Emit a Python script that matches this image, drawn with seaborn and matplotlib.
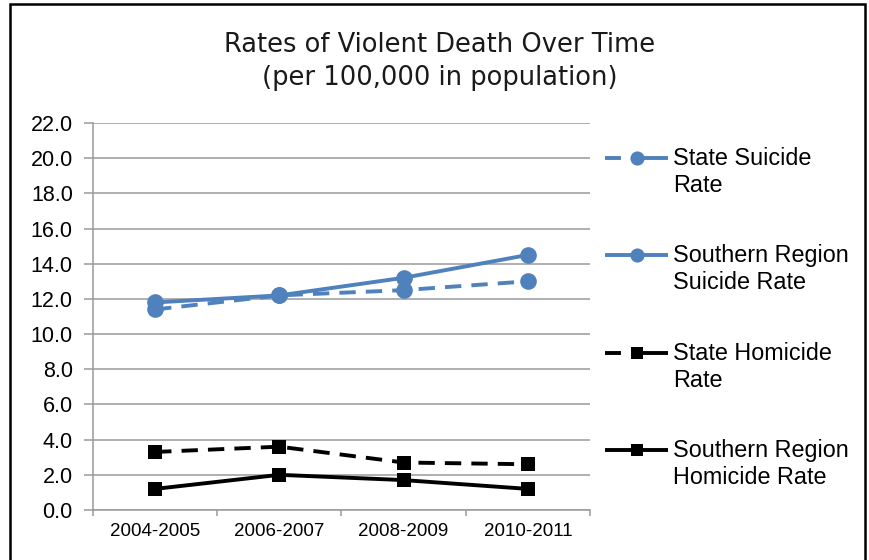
import matplotlib
matplotlib.use("Agg")
import matplotlib.pyplot as plt
from matplotlib.lines import Line2D
from matplotlib.patches import Rectangle
from matplotlib.ticker import FixedLocator, FormatStrFormatter
import seaborn as sns
import pandas as pd

# Data
periods = ["2004-2005", "2006-2007", "2008-2009", "2010-2011"]
state_suicide = [11.4, 12.2, 12.5, 13.0]
region_suicide = [11.8, 12.2, 13.2, 14.5]
state_homicide = [3.3, 3.6, 2.7, 2.6]
region_homicide = [1.2, 2.0, 1.7, 1.2]

series_names = ["State Suicide\nRate", "Southern Region\nSuicide Rate",
                "State Homicide\nRate", "Southern Region\nHomicide Rate"]
series_values = [state_suicide, region_suicide, state_homicide, region_homicide]

blue = "#4F81BD"
styles = [
    dict(color=blue, marker="o", markersize=12, dashed=True),
    dict(color=blue, marker="o", markersize=12, dashed=False),
    dict(color="black", marker="s", markersize=10.5, dashed=True),
    dict(color="black", marker="s", markersize=10.5, dashed=False),
]
LW = 2.8

sns.set_theme(style="white")
plt.rcParams["font.family"] = ["Liberation Sans", "DejaVu Sans"]
plt.rcParams["text.color"] = "black"

fig = plt.figure(figsize=(8.7, 5.6), dpi=100)
ax = fig.add_axes([93 / 870, 50 / 560, 497 / 870, 387 / 560])

for name, vals, st in zip(series_names, series_values, styles):
    df = pd.DataFrame({"period": periods, "rate": vals})
    sns.lineplot(data=df, x="period", y="rate", ax=ax, color=st["color"],
                 marker=st["marker"], markersize=st["markersize"],
                 markeredgewidth=0, linewidth=LW, sort=False, legend=False)
    line = ax.lines[-1]
    line.set_markerfacecolor(st["color"])
    if st["dashed"]:
        line.set_dashes((4.2, 2.6))

ax.set_xlim(-0.5, 3.5)
ax.set_ylim(0, 22)
ax.set_yticks(range(0, 23, 2))
ax.yaxis.set_major_formatter(FormatStrFormatter("%.1f"))
ax.set_xlabel("")
ax.set_ylabel("")

grid_c = "#9a9a9a"
ax.grid(axis="y", color=grid_c, linewidth=1.1)
ax.grid(axis="x", visible=False)
for side in ["top", "right"]:
    ax.spines[side].set_visible(False)
for side in ["left", "bottom"]:
    ax.spines[side].set_color(grid_c)
    ax.spines[side].set_linewidth(1.1)

ax.tick_params(axis="y", which="major", length=6.5, width=1.1, color=grid_c,
               left=True, pad=8, labelsize=15.5, labelcolor="black")
ax.xaxis.set_minor_locator(FixedLocator([-0.5, 0.5, 1.5, 2.5, 3.5]))
ax.tick_params(axis="x", which="minor", length=4, width=1.1, color=grid_c,
               bottom=True, direction="out")
ax.tick_params(axis="x", which="major", length=0, pad=9, labelsize=13.5,
               labelcolor="black")

# Legend drawn beside the plot area
leg_rows = [158, 255, 353, 450]
for (name, st), y in zip(zip(series_names, styles), leg_rows):
    yf = 1 - y / 560
    h = Line2D([605 / 870, 668 / 870], [yf, yf], transform=fig.transFigure,
               color=st["color"], linewidth=LW, solid_capstyle="butt",
               dash_capstyle="butt")
    if st["dashed"]:
        h.set_dashes((4.1, 2.6, 9.5, 10.0))
    fig.add_artist(h)
    m = Line2D([637 / 870], [yf], transform=fig.transFigure, color=st["color"],
               marker=st["marker"], markersize=st["markersize"] * 0.85,
               markeredgewidth=0, linestyle="none")
    fig.add_artist(m)
    fig.text(673 / 870, yf + 11 / 560, name, ha="left", va="top", fontsize=16.8,
             linespacing=1.22)

# Title
title_font = ["DejaVu Sans"]
fig.text(440 / 870, 1 - 45 / 560, "Rates of Violent Death Over Time",
         ha="center", va="center", fontsize=18.5, family=title_font,
         color="#1a1a1a")
fig.text(440 / 870, 1 - 78 / 560, "(per 100,000 in population)",
         ha="center", va="center", fontsize=18.5, family=title_font,
         color="#1a1a1a")

# Outer frame
fig.add_artist(Rectangle((10 / 870, -0.05), 855 / 870, 1.05 - 4 / 560,
                         transform=fig.transFigure, fill=False,
                         edgecolor="black", linewidth=1.8))

fig.savefig("out.png", dpi=100)
